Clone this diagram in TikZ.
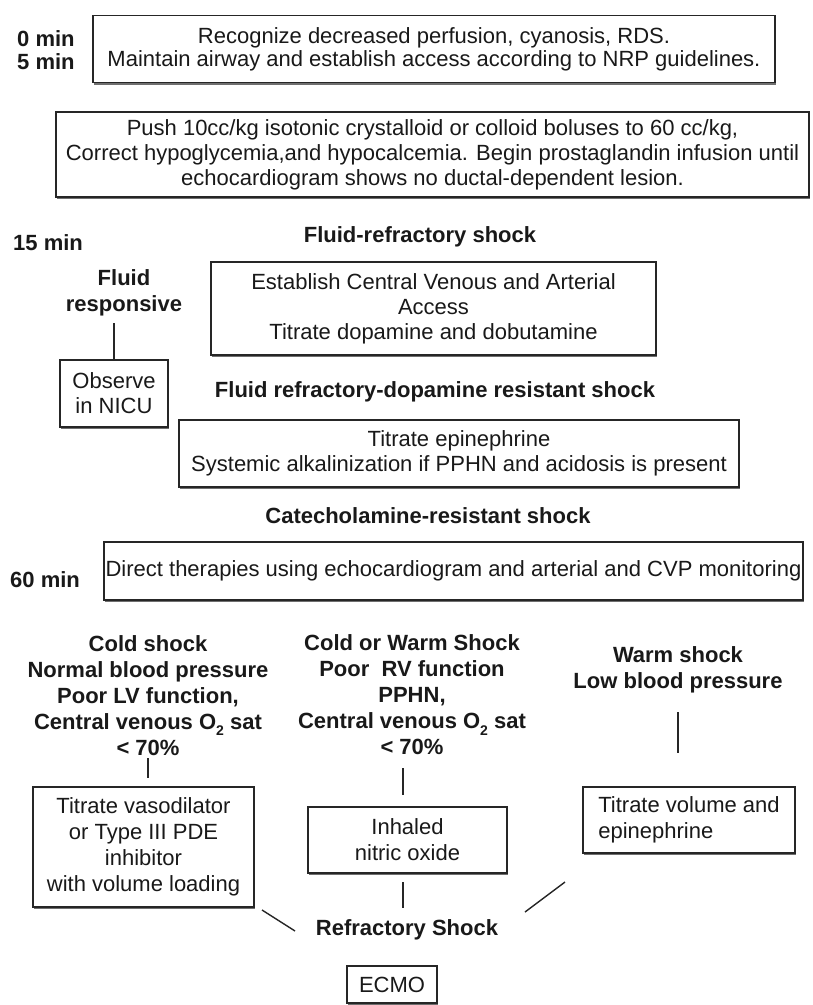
\documentclass[tikz,border=0pt]{standalone}
\usepackage{fontspec}
\setmainfont{Liberation Sans}
\usetikzlibrary{shadows}
\newcommand\osub{O\raisebox{-0.28em}{\fontsize{14}{14}\selectfont 2}}
\begin{document}
\begin{tikzpicture}[x=1pt,y=-1pt,
  every node/.style={text=black!90, inner sep=0pt},
  lbl/.style={font=\bfseries\fontsize{22}{26}\selectfont, align=center},
  box/.style={draw=black!85, line width=1.4pt, fill=white,
    font=\fontsize{22}{25}\selectfont, align=center,
    drop shadow={shadow xshift=1.2pt, shadow yshift=-2.2pt, fill=black!70, opacity=0.8}},
  link/.style={draw=black!85, line width=1.4pt}]
\useasboundingbox (0,0) rectangle (813,1005);
\fill[white] (0,0) rectangle (813,1005);

% time labels
\node[lbl, anchor=west] (t0) at (17,39) {0 min};
\node[lbl, anchor=west] (t5) at (17,62) {5 min};
\node[lbl, anchor=west] (t15) at (13,243) {15 min};
\node[lbl, anchor=west] (t60) at (10,580) {60 min};

% boxes
\node[box, minimum width=682pt, minimum height=67pt] (b1) at (434,49)
  {Recognize decreased perfusion, cyanosis, RDS.\\[-2pt]
   Maintain airway and establish access according to NRP guidelines.};
\node[box, minimum width=753pt, minimum height=85pt] (b2) at (432.5,154.5)
  {Push 10cc/kg isotonic crystalloid or colloid boluses to 60 cc/kg,\\
   Correct hypoglycemia,and hypocalcemia. Begin prostaglandin infusion until\\
   echocardiogram shows no ductal-dependent lesion.};
\node[lbl] (frs) at (420,237) {Fluid-refractory shock};
\node[box, minimum width=445pt, minimum height=93pt] (b3) at (433.5,308.5)
  {Establish Central Venous and Arterial\\Access\\Titrate dopamine and dobutamine};
\node[lbl] (fr) at (124,292.5) {Fluid\\responsive};
\node[box, minimum width=108pt, minimum height=67pt] (obs) at (114,393.5)
  {Observe\\in NICU};
\node[lbl] (frd) at (435,392) {Fluid refractory-dopamine resistant shock};
\node[box, minimum width=560pt, minimum height=67pt] (b4) at (459,453.5)
  {Titrate epinephrine\\Systemic alkalinization if PPHN and acidosis is present};
\node[lbl] (cat) at (428,516) {Catecholamine-resistant shock};
\node[box, minimum width=699pt, minimum height=58pt] (b5) at (453.5,571)
  {Direct therapies using echocardiogram and arterial and CVP monitoring};

% column headers
\node[lbl] (lh) at (148,695.5)
  {Cold shock\\Normal blood pressure\\Poor LV function,\\Central venous \osub{} sat\\< 70\%};
\node[lbl] (mh) at (412,695)
  {Cold or Warm Shock\\Poor\ \ RV function\\PPHN,\\Central venous \osub{} sat\\< 70\%};
\node[lbl] (rh) at (678,670) {Warm shock\\Low blood pressure};

% therapy boxes
\node[box, minimum width=221pt, minimum height=120pt, font=\fontsize{22}{26}\selectfont] (lb) at (143.5,847)
  {Titrate vasodilator\\or Type III PDE\\inhibitor\\with volume loading};
\node[box, minimum width=199pt, minimum height=66pt, font=\fontsize{22}{26}\selectfont] (mb) at (407.5,840)
  {Inhaled\\nitric oxide};
\node[box, minimum width=212pt, minimum height=66pt, align=left, font=\fontsize{22}{26}\selectfont] (rb) at (689,820)
  {Titrate volume and\\epinephrine};

\node[lbl] (rs) at (407,930) {Refractory Shock};
\node[box, minimum width=90pt, minimum height=37pt] (ecmo) at (392,984.5) {ECMO};

% connectors
\coordinate (c1) at (114,323);
\draw[link] (c1) -- (obs.north);
\coordinate (l1) at (148,758); \coordinate (l2) at (148,778);
\draw[link] (l1) -- (l2);
\coordinate (m1) at (403,768); \coordinate (m2) at (403,795);
\draw[link] (m1) -- (m2);
\coordinate (r1) at (678,712); \coordinate (r2) at (678,753);
\draw[link] (r1) -- (r2);
\coordinate (m3) at (403,882); \coordinate (m4) at (403,908);
\draw[link] (m3) -- (m4);
\coordinate (d1) at (262,910); \coordinate (d2) at (295,931);
\draw[link] (d1) -- (d2);
\coordinate (d3) at (565,882); \coordinate (d4) at (525,912);
\draw[link] (d3) -- (d4);
\end{tikzpicture}
\end{document}
